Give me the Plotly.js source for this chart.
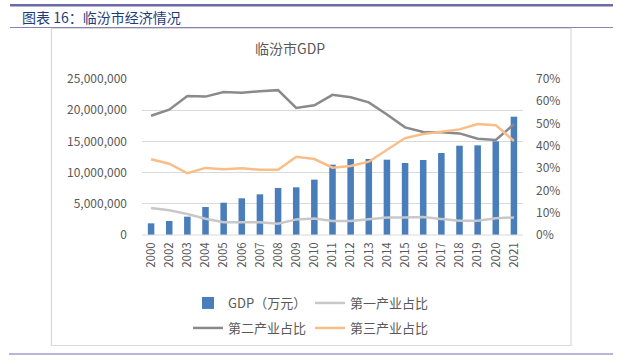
<!DOCTYPE html>
<html>
<head>
<meta charset="utf-8">
<script src="https://cdn.plot.ly/plotly-3.0.1.min.js"></script>
<style>
html,body{margin:0;padding:0;background:#fff;}
#chart{width:622px;height:362px;}
</style>
</head>
<body>
<div id="chart"></div>
<script>
const years = ['2000','2002','2003','2004','2005','2006','2007','2008','2009','2010','2011','2012','2013','2014','2015','2016','2017','2018','2019','2020','2021'];
const gdp = [1870000,2240000,2940000,4490000,5180000,5880000,6520000,7530000,7640000,8870000,11270000,12180000,12180000,12070000,11540000,12020000,13140000,14310000,14370000,15010000,18960000];
const primaryShare = [0.121,0.111,0.094,0.073,0.057,0.057,0.057,0.051,0.070,0.074,0.063,0.063,0.070,0.078,0.078,0.081,0.072,0.064,0.064,0.075,0.079];
const secondaryShare = [0.535,0.562,0.624,0.621,0.642,0.638,0.645,0.650,0.570,0.582,0.629,0.618,0.595,0.541,0.483,0.462,0.461,0.456,0.432,0.426,0.497];
const tertiaryShare = [0.340,0.320,0.277,0.301,0.295,0.299,0.293,0.293,0.351,0.341,0.302,0.310,0.329,0.381,0.435,0.453,0.463,0.474,0.498,0.493,0.422];
const seriesNames = ['GDP（万元）','第一产业占比','第二产业占比','第三产业占比'];
const chartTitle = '临汾市GDP';
const figTitle = '图表 16：临汾市经济情况';

const W = 622, H = 362;
const L = 142, R = 523, T = 79, B = 235;
const px = x => (x - L) / (R - L);
const py = y => (B - y) / (B - T);

const cjk = '"Noto Sans CJK SC", "Noto Sans", sans-serif';
const grey = '#595959';

const traces = [
  {type:'bar', x: years, y: gdp, name: seriesNames[0], marker:{color:'#4a7ebb'}, yaxis:'y', legend:'legend'},
  {type:'scatter', mode:'lines', x: years, y: primaryShare, name: seriesNames[1], line:{color:'#c8c8c8', width:2.5}, yaxis:'y2', legend:'legend'},
  {type:'scatter', mode:'lines', x: years, y: secondaryShare, name: seriesNames[2], line:{color:'#8a8a8a', width:2.5}, yaxis:'y2', legend:'legend2'},
  {type:'scatter', mode:'lines', x: years, y: tertiaryShare, name: seriesNames[3], line:{color:'#f9bd87', width:2.5}, yaxis:'y2', legend:'legend2'}
];

const legendBase = {orientation:'h', x: px(188), xanchor:'left', yanchor:'top',
           entrywidth: 77, entrywidthmode:'pixels', font:{size:13, color: grey, family: cjk},
           tracegroupgap: 0, itemwidth: 30, bgcolor:'rgba(0,0,0,0)'};

const layout = {
  width: W, height: H,
  margin: {l: L, r: W - R, t: T, b: H - B, pad: 0},
  paper_bgcolor: '#fff', plot_bgcolor: '#fff',
  font: {family: cjk, color: grey, size: 12},
  bargap: 0.64,
  showlegend: true,
  legend: Object.assign({}, legendBase, {y: py(288)}),
  legend2: Object.assign({}, legendBase, {y: py(313)}),
  xaxis: {type:'category', tickangle: -90, tickfont:{size:11.5, color: grey, family: cjk},
          showgrid:false, zeroline:false, showline:false, ticks:'', ticklabelstandoff: 4},
  yaxis: {range:[0, 25000000], dtick: 5000000, tickformat: ',', showgrid: true, gridcolor:'#d9d9d9', gridwidth: 1,
          zeroline:false, showline:false, ticks:'', tickfont:{size:12, color: grey, family: cjk}, ticklabelstandoff: 14},
  yaxis2: {range:[0, 0.7], dtick: 0.1, tickformat: '.0%', overlaying:'y', side:'right', showgrid:false,
           zeroline:false, showline:false, ticks:'', tickfont:{size:12, color: grey, family: cjk}, ticklabelstandoff: 12},
  shapes: [
    {type:'line', xref:'paper', yref:'paper', x0: px(10), x1: px(613), y0: py(5.3), y1: py(5.3), line:{color:'#6b6ba6', width:2.5}},
    {type:'line', xref:'paper', yref:'paper', x0: px(10), x1: px(613), y0: py(27.5), y1: py(27.5), line:{color:'#8585b3', width:1.2}},
    {type:'rect', xref:'paper', yref:'paper', x0: px(51.5), x1: px(571), y0: py(28.5), y1: py(345.5), line:{color:'#d9d9d9', width:1.2}, fillcolor:'rgba(0,0,0,0)', layer:'below'},
    {type:'line', xref:'paper', yref:'paper', x0: px(9), x1: px(613), y0: py(354), y1: py(354), line:{color:'#b6b6d6', width:2}},
    {type:'line', xref:'paper', yref:'paper', x0: px(142), x1: px(523), y0: 0, y1: 0, line:{color:'#d9d9d9', width:1}}
  ],
  annotations: [
    {xref:'paper', yref:'paper', x: px(20), y: py(17), xanchor:'left', yanchor:'middle', showarrow:false,
     text: figTitle, font:{family: cjk, size:14, color:'#1f3c7a'}},
    {xref:'paper', yref:'paper', x: px(290), y: py(48), xanchor:'center', yanchor:'middle', showarrow:false,
     text: chartTitle, font:{family: cjk, size:14, color: grey}}
  ]
};

Plotly.newPlot('chart', traces, layout, {staticPlot:true, displayModeBar:false});
</script>
</body>
</html>
